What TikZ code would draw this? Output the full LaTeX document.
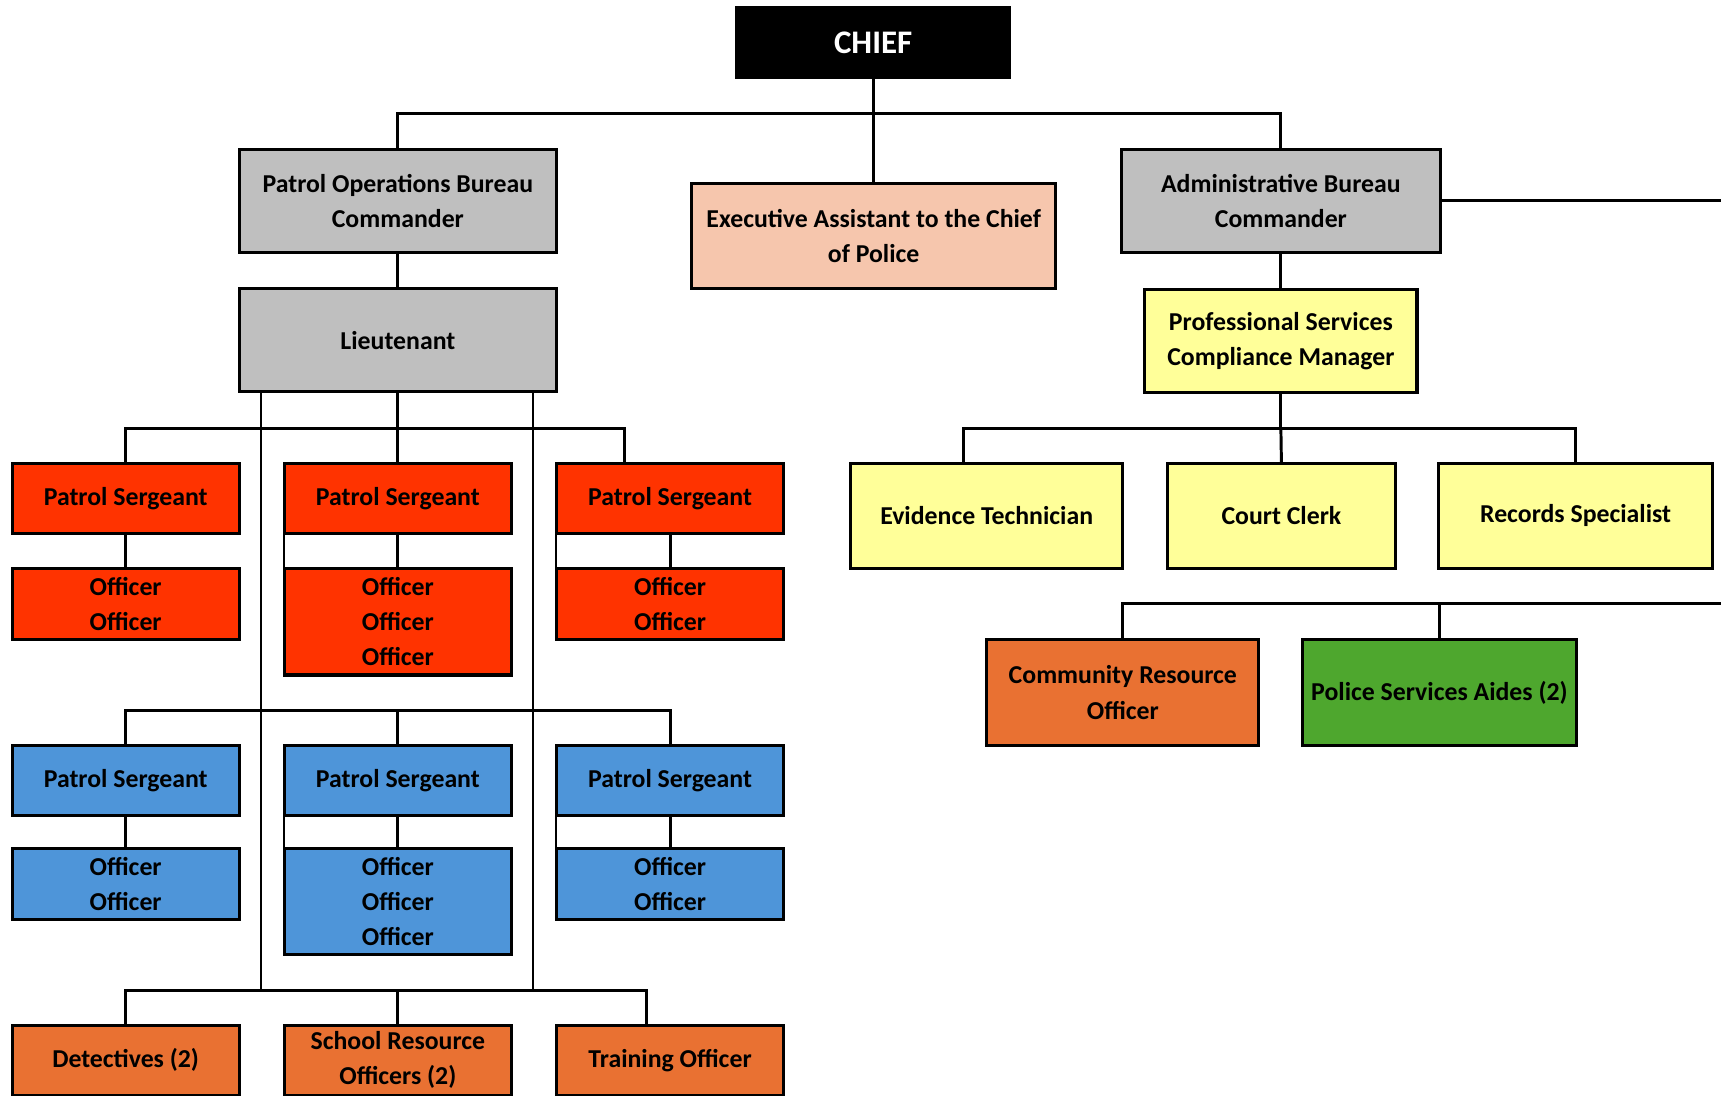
\documentclass[tikz,border=0pt]{standalone}
\usepackage{fontspec}
\setmainfont{Carlito}
\definecolor{boxgray}{HTML}{BFBFBF}
\definecolor{peach}{HTML}{F6C6AD}
\definecolor{paleyellow}{HTML}{FFFF99}
\definecolor{patrolred}{HTML}{FF3300}
\definecolor{patrolblue}{HTML}{4E95D9}
\definecolor{unitorange}{HTML}{E97132}
\definecolor{aidegreen}{HTML}{4EA72E}
\begin{document}
\begin{tikzpicture}[x=1pt,y=-1pt,
  box/.style={draw=black,line width=2.8pt,inner sep=0pt,outer sep=0pt,align=center,
    font=\bfseries\fontsize{23.5}{32}\selectfont},
  bureau/.style={box,fill=boxgray,minimum width=289,minimum height=94},
  staff/.style={box,fill=paleyellow,minimum width=248,minimum height=96},
  sgt/.style={box,minimum width=207,minimum height=64},
  link/.style={line width=2.7pt},
  feeder/.style={line width=1.8pt}]
  \useasboundingbox (0,0) rectangle (1568,998.5);
  % Top of the chart
  \node[box,fill=black,text=white,font=\bfseries\fontsize{30}{32}\selectfont,
    minimum width=249,minimum height=64] (Chief) at (795.5,39) {CHIEF};
  \node[bureau]  (POB)   at (362.5,183) {Patrol Operations Bureau\\Commander};
  \node[box,fill=peach,minimum width=332,minimum height=96] (EA) at (796,215)
    {Executive Assistant to the Chief\\of Police};
  \node[bureau,minimum width=290] (ABC) at (1167,183) {Administrative Bureau\\Commander};
  \node[bureau]  (Lt)    at (362.5,310) {Lieutenant};
  \node[staff,minimum height=94] (PSCM) at (1167,310.5) {Professional Services\\Compliance Manager};
  % Administrative side
  \node[staff]   (ET)    at (899,470)    {Evidence Technician};
  \node[staff,minimum width=207] (CC) at (1167.5,470) {Court Clerk};
  \node[staff,minimum width=249] (RS) at (1435.5,470) {Records Specialist};
  \node[staff,fill=unitorange] (CRO) at (1023,631) {Community Resource\\Officer};
  \node[staff,fill=aidegreen,minimum width=249] (PSA) at (1311.5,631) {Police Services Aides (2)};
  % Patrol side: red shift
  \node[sgt,fill=patrolred] (S1) at (114.5,454) {Patrol Sergeant};
  \node[sgt,fill=patrolred] (S2) at (362.5,454) {Patrol Sergeant};
  \node[sgt,fill=patrolred] (S3) at (610.5,454) {Patrol Sergeant};
  \node[sgt,fill=patrolred,minimum height=65] (O1) at (114.5,550.5) {Officer\\Officer};
  \node[sgt,fill=patrolred,minimum height=97] (O2) at (362.5,566.5) {Officer\\Officer\\Officer};
  \node[sgt,fill=patrolred,minimum height=65] (O3) at (610.5,550.5) {Officer\\Officer};
  % Patrol side: blue shift
  \node[sgt,fill=patrolblue] (B1) at (114.5,711) {Patrol Sergeant};
  \node[sgt,fill=patrolblue] (B2) at (362.5,711) {Patrol Sergeant};
  \node[sgt,fill=patrolblue] (B3) at (610.5,711) {Patrol Sergeant};
  \node[sgt,fill=patrolblue,minimum height=65] (P1) at (114.5,805.5) {Officer\\Officer};
  \node[sgt,fill=patrolblue,minimum height=97] (P2) at (362.5,821.5) {Officer\\Officer\\Officer};
  \node[sgt,fill=patrolblue,minimum height=65] (P3) at (610.5,805.5) {Officer\\Officer};
  % Patrol side: units
  \node[sgt,fill=unitorange] (D1) at (114.5,966) {Detectives (2)};
  \node[sgt,fill=unitorange] (D2) at (362.5,966) {School Resource\\Officers (2)};
  \node[sgt,fill=unitorange] (D3) at (610.5,966) {Training Officer};
  % bus lines
  \coordinate (topbus)  at (0,103);
  \coordinate (redbus)  at (0,390);
  \coordinate (s3drop)  at (569,390);
  \coordinate (bluebus) at (0,647);
  \coordinate (botbus)  at (0,902);
  \coordinate (trdrop)  at (589,902);
  \coordinate (fl)      at (238,0);
  \coordinate (fr)      at (486,0);
  \coordinate (etdrop)  at (878,390);
  \coordinate (crobus)  at (1568,550);
  \coordinate (edge)    at (1568,0);
  \draw[link] (Chief.south) -- (Chief.south |- EA.north);
  \draw[link] (POB.north) -- (POB.north |- topbus) -- (ABC.north |- topbus) -- (ABC.north);
  \draw[link] (POB) -- (Lt);
  \draw[link] (Lt.south) -- (Lt.south |- redbus);
  \draw[link] (S1.north) |- (s3drop) -- (s3drop |- S3.north);
  \draw[link] (S2.north) -- (S2.north |- redbus);
  \draw[feeder] (Lt.south -| fl) -- (fl |- botbus);
  \draw[feeder] (Lt.south -| fr) -- (fr |- botbus);
  \draw[link] (S1) -- (O1);
  \draw[link] (S2) -- (O2);
  \draw[link] (S3) -- (O3);
  \draw[feeder] (S2.south west) -- (O2.north west);
  \draw[feeder] (S3.south west) -- (O3.north west);
  \draw[link] (B1.north) |- (B3.north |- bluebus) -- (B3.north);
  \draw[link] (B2.north) -- (B2.north |- bluebus);
  \draw[link] (B1) -- (P1);
  \draw[link] (B2) -- (P2);
  \draw[link] (B3) -- (P3);
  \draw[feeder] (B2.south west) -- (P2.north west);
  \draw[feeder] (B3.south west) -- (P3.north west);
  \draw[link] (D1.north) |- (trdrop) -- (trdrop |- D3.north);
  \draw[link] (D2.north) -- (D2.north |- botbus);
  % administrative links
  \draw[link] (ABC.east) -- (ABC.east -| edge);
  \draw[link] (ABC) -- (PSCM);
  \draw[link] (PSCM.south) -- (PSCM.south |- etdrop);
  \draw[link] (etdrop |- ET.north) |- (RS.north |- etdrop) -- (RS.north);
  \draw[link] (PSCM.south |- etdrop) -- (CC.north);
  \draw[link] (CRO.north) |- (crobus);
  \draw[link] (PSA.north) -- (PSA.north |- crobus);
\end{tikzpicture}
\end{document}
